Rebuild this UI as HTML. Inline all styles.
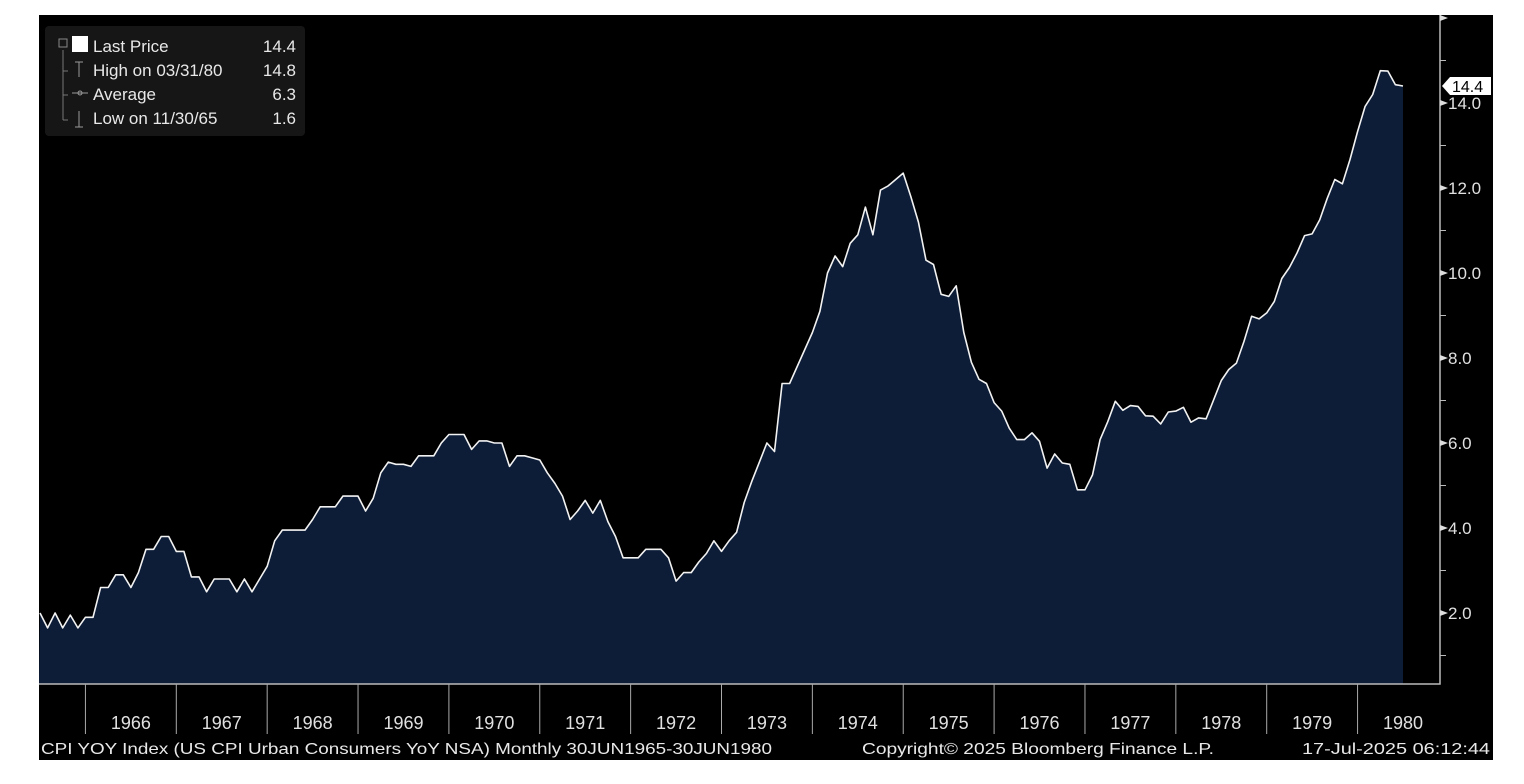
<!DOCTYPE html>
<html><head><meta charset="utf-8"><style>
html,body{margin:0;padding:0;background:#fff;}
svg{display:block;font-family:"Liberation Sans",Tahoma,sans-serif;}
</style></head><body>
<svg id="chart" width="1524" height="784" viewBox="0 0 1524 784">
<rect x="39" y="15" width="1454" height="745" fill="#000"/>
<g id="plot"></g>
<g id="yaxis"></g>
<g id="xaxis"></g>
<g>
<rect x="45" y="26" width="260" height="110" rx="4" fill="#161616"/>
<path d="M63 50 V120 M63 71 H68 M63 95 H68 M63 120 H68" stroke="#777" fill="none"/>
<rect x="59" y="39" width="8" height="8" fill="none" stroke="#888"/>
<rect x="72" y="36" width="16" height="16" fill="#fff"/>
<path d="M75 62 H83 M79 62 V77" stroke="#999"/>
<path d="M72 93 H88 M80 93 m-2 0 a2 2 0 1 0 4 0 a2 2 0 1 0 -4 0" stroke="#999" fill="none"/>
<path d="M79 111 V127 M75 127 H83" stroke="#999"/>
<g font-size="17" fill="#e8e8e8">
<text x="93" y="52">Last Price</text>
<text x="296" y="52" text-anchor="end">14.4</text>
<text x="93" y="76">High on 03/31/80</text>
<text x="296" y="76" text-anchor="end">14.8</text>
<text x="93" y="100">Average</text>
<text x="296" y="100" text-anchor="end">6.3</text>
<text x="93" y="124">Low on 11/30/65</text>
<text x="296" y="124" text-anchor="end">1.6</text>
</g></g>
<g font-size="16" fill="#e8e8e8">
<text x="41" y="754" textLength="731" lengthAdjust="spacingAndGlyphs">CPI YOY Index (US CPI Urban Consumers YoY NSA)  Monthly 30JUN1965-30JUN1980</text>
<text x="862" y="754" textLength="352" lengthAdjust="spacingAndGlyphs">Copyright© 2025 Bloomberg Finance L.P.</text>
<text x="1302" y="754" textLength="188" lengthAdjust="spacingAndGlyphs">17-Jul-2025 06:12:44</text>
</g>
</svg>
<script>
const values = [2.0,1.65,2.0,1.65,1.95,1.65,1.9,1.9,2.6,2.6,2.9,2.9,2.6,2.95,3.5,3.5,3.8,3.8,3.45,3.45,2.85,2.85,2.5,2.8,2.8,2.8,2.5,2.8,2.5,2.8,3.1,3.7,3.95,3.95,3.95,3.95,4.2,4.5,4.5,4.5,4.75,4.75,4.75,4.4,4.7,5.3,5.55,5.5,5.5,5.45,5.7,5.7,5.7,6.0,6.2,6.2,6.2,5.85,6.05,6.05,6.0,6.0,5.45,5.7,5.7,5.65,5.6,5.3,5.05,4.75,4.2,4.4,4.65,4.35,4.65,4.15,3.8,3.3,3.3,3.3,3.5,3.5,3.5,3.3,2.75,2.95,2.95,3.2,3.4,3.7,3.45,3.7,3.9,4.6,5.1,5.55,6.0,5.8,7.4,7.4,7.8,8.2,8.6,9.1,10.0,10.4,10.15,10.7,10.9,11.55,10.9,11.95,12.05,12.2,12.35,11.8,11.2,10.3,10.2,9.5,9.45,9.7,8.6,7.9,7.5,7.4,6.95,6.75,6.35,6.08,6.08,6.24,6.04,5.41,5.74,5.53,5.5,4.9,4.9,5.25,6.08,6.5,6.98,6.77,6.88,6.86,6.64,6.63,6.45,6.73,6.75,6.84,6.49,6.59,6.57,7.02,7.47,7.73,7.88,8.39,8.98,8.92,9.06,9.33,9.87,10.13,10.47,10.88,10.92,11.25,11.76,12.2,12.1,12.67,13.33,13.92,14.2,14.76,14.75,14.43,14.4];
const yTicks = [2,4,6,8,10,12,14];
const yTickLabels = ["2.0","4.0","6.0","8.0","10.0","12.0","14.0"];
const years = ["1966","1967","1968","1969","1970","1971","1972","1973","1974","1975","1976","1977","1978","1979","1980"];
const lastValue = 14.4;

const NS="http://www.w3.org/2000/svg";
const X0=40, X1=1403, BOTTOM=684, AXISX=1440;
const xScale = i => X0 + (X1-X0)*i/(values.length-1);
const yScale = v => 698 - 42.5*v;
function mk(tag, attrs, parent){const e=document.createElementNS(NS,tag);for(const k in attrs)e.setAttribute(k,attrs[k]);parent.appendChild(e);return e;}
const plot=document.getElementById('plot'), ya=document.getElementById('yaxis'), xa=document.getElementById('xaxis');

let line = values.map((v,i)=>(i?'L':'M')+xScale(i).toFixed(1)+' '+yScale(v).toFixed(1)).join(' ');
const area = mk('path',{d:line+` L${xScale(values.length-1)} ${BOTTOM} L${X0-1} ${BOTTOM} Z`,fill:'#0d1d38'},plot);


const ln = mk('path',{d:line,fill:'none',stroke:'#f2f2f2','stroke-width':1.6,'stroke-linejoin':'round'},plot);



mk('path',{d:`M39 ${BOTTOM} H${AXISX} V15`,stroke:'#bbb','stroke-width':1.5,fill:'none'},plot);

for(let v=1; v<=15; v+=2){ mk('line',{x1:AXISX,x2:AXISX+6,y1:yScale(v),y2:yScale(v),stroke:'#bbb'},ya); }
mk('path',{d:`M${AXISX} ${yScale(16)-3} l8 3 l-8 3z`,fill:'#ddd'},ya);
yTicks.forEach((v,k)=>{
  const y=yScale(v);
  mk('path',{d:`M${AXISX} ${y-3} l8 3 l-8 3z`,fill:'#ddd'},ya);
  const t=mk('text',{x:AXISX+8,y:y+6,'font-size':17,fill:'#e0e0e0'},ya);
  t.textContent=yTickLabels[k];
  
  
});
const ly=yScale(lastValue);
const tag=mk('path',{d:`M${AXISX+2} ${ly} L${AXISX+10} ${ly-9} H1491 V${ly+9} H${AXISX+10} Z`,fill:'#fff'},ya);


const tt=mk('text',{x:AXISX+12,y:ly+6,'font-size':16,fill:'#000'},ya);
tt.textContent=lastValue.toFixed(1);



years.forEach((yr,k)=>{
  const i0=6+12*k, xa0=xScale(i0), xa1=xScale(Math.min(i0+12,values.length-1+6));
  mk('line',{x1:xa0,x2:xa0,y1:BOTTOM,y2:734,stroke:'#aaa'},xa);
  const t=mk('text',{x:(xa0+Math.min(xa1,xa0+91))/2,y:729,'font-size':18,fill:'#e0e0e0','text-anchor':'middle'},xa);
  t.textContent=yr;
  
  
});
</script>
</body></html>
